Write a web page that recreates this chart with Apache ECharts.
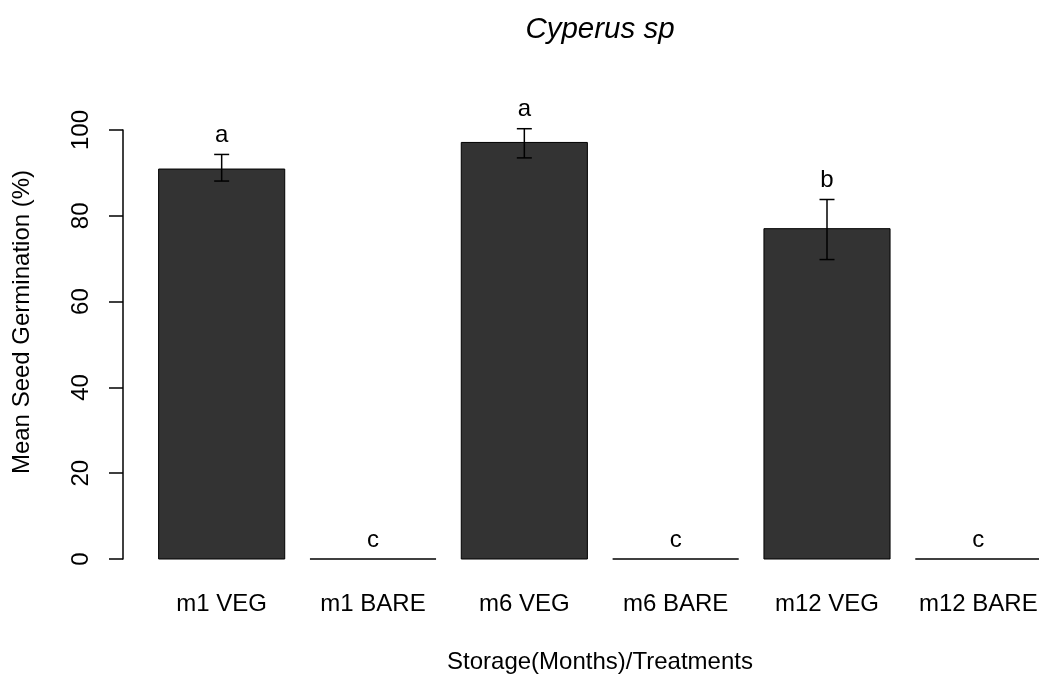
<!DOCTYPE html>
<html>
<head>
<meta charset="utf-8">
<script src="https://cdn.jsdelivr.net/npm/echarts@6/dist/echarts.min.js"></script>
<style>html,body{margin:0;padding:0;background:#fff}#c{width:1039px;height:678px}</style>
</head>
<body>
<div id="c"></div>
<script>
const categories = ['m1 VEG', 'm1 BARE', 'm6 VEG', 'm6 BARE', 'm12 VEG', 'm12 BARE'];
const means = [90.9, 0, 97.1, 0, 77.0, 0];
const errLow = [88.1, 0, 93.5, 0, 69.8, 0];
const errHigh = [94.3, 0, 100.3, 0, 83.8, 0];
const letters = ['a', 'c', 'a', 'c', 'b', 'c'];
const yTicks = [0, 20, 40, 60, 80, 100];

const FONT = 'Liberation Sans, Arial, sans-serif';
const FS = 24;

const chart = echarts.init(document.getElementById('c'), null, {renderer: 'canvas'});

const data = categories.map((c, i) => [i, means[i], errLow[i], errHigh[i], letters[i]]);

function renderItem(params, api) {
  const i = api.value(0);
  const m = api.value(1);
  const lo = api.value(2);
  const hi = api.value(3);
  const letter = api.value(4);
  const base = api.coord([i, 0]);
  const top = api.coord([i, m]);
  const slot = api.size([1, 0])[0];
  const bw = slot / 1.2;
  const x0 = base[0] - bw / 2;
  const children = [];
  if (m > 0) {
    children.push({
      type: 'rect',
      shape: {x: x0, y: top[1], width: bw, height: base[1] - top[1]},
      style: {fill: '#333333', stroke: '#000', lineWidth: 1}
    });
    const pHi = api.coord([i, hi]);
    const pLo = api.coord([i, lo]);
    const cap = 7.5;
    children.push({type: 'line', shape: {x1: base[0], y1: pHi[1], x2: base[0], y2: pLo[1]}, style: {stroke: '#000', lineWidth: 1.5}});
    children.push({type: 'line', shape: {x1: base[0] - cap, y1: pHi[1], x2: base[0] + cap, y2: pHi[1]}, style: {stroke: '#000', lineWidth: 1.5}});
    children.push({type: 'line', shape: {x1: base[0] - cap, y1: pLo[1], x2: base[0] + cap, y2: pLo[1]}, style: {stroke: '#000', lineWidth: 1.5}});
  } else {
    children.push({type: 'line', shape: {x1: x0, y1: base[1], x2: x0 + bw, y2: base[1]}, style: {stroke: '#000', lineWidth: 1.5}});
  }
  const lp = api.coord([i, hi + 4.4]);
  children.push({
    type: 'text',
    x: base[0], y: lp[1],
    style: {text: letter, fill: '#000', font: FS + 'px ' + FONT, align: 'center', verticalAlign: 'middle'}
  });
  return {type: 'group', children: children};
}

chart.setOption({
  animation: false,
  backgroundColor: '#fff',
  title: {
    text: 'Cyperus sp',
    left: 595, top: 10,
    textAlign: 'center',
    textStyle: {fontFamily: FONT, fontSize: 29.5, fontStyle: 'italic', fontWeight: 'normal', color: '#000'}
  },
  grid: {left: 146, top: 130, width: 908, bottom: 119, containLabel: false, outerBoundsMode: 'none'},
  xAxis: {
    type: 'category',
    data: categories,
    boundaryGap: true,
    axisLine: {show: false},
    axisTick: {show: false},
    axisLabel: {margin: 33, fontFamily: FONT, fontSize: FS, color: '#000', interval: 0},
    splitLine: {show: false}
  },
  yAxis: {
    type: 'value',
    min: 0, max: 100, interval: 20,
    offset: 23,
    axisLine: {show: true, lineStyle: {color: '#000', width: 1.5}},
    axisTick: {show: true, length: 14, lineStyle: {color: '#000', width: 1.5}},
    axisLabel: {
      rotate: 90, margin: 30, fontFamily: FONT, fontSize: FS, color: '#000',
      formatter: v => yTicks.includes(v) ? String(v) : ''
    },
    splitLine: {show: false}
  },
  graphic: [
    {type: 'text', x: 600, y: 662, style: {text: 'Storage(Months)/Treatments', font: FS + 'px ' + FONT, fill: '#000', align: 'center', verticalAlign: 'middle'}},
    {type: 'text', x: 22, y: 322, rotation: Math.PI / 2, style: {text: 'Mean Seed Germination (%)', font: FS + 'px ' + FONT, fill: '#000', align: 'center', verticalAlign: 'middle'}}
  ],
  series: [{
    type: 'custom',
    renderItem: renderItem,
    data: data,
    encode: {x: 0, y: 1},
    clip: false
  }]
});
</script>
</body>
</html>
